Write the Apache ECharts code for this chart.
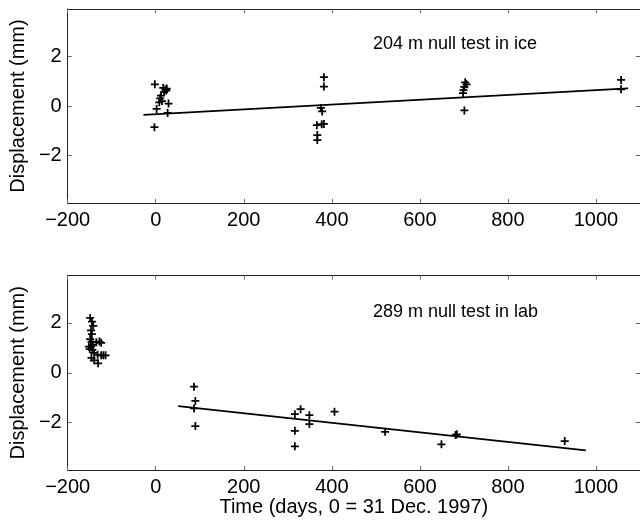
<!DOCTYPE html>
<html>
<head>
<meta charset="utf-8">
<script src="https://cdn.jsdelivr.net/npm/echarts@6/dist/echarts.min.js"></script>
<style>
  html, body { margin: 0; padding: 0; background: #fff; }
  #main { width: 640px; height: 522px; }
</style>
</head>
<body>
<div id="main"></div>
<script>
// 204 m null test in ice
var iceDays = [-2, 17, 22, 19, 24, 25, 10, 12, 14, 8, 29, 2, 27, -3,
  382, 382, 375, 378, 366, 377, 382, 367, 367,
  703, 706, 701, 699, 698, 701,
  1057, 1057];
var iceDisp = [0.87, 0.73, 0.66, 0.56, 0.62, 0.7, 0.31, 0.42, 0.2, 0.15, 0.1, -0.12, -0.28, -0.85,
  1.16, 0.78, -0.08, -0.22, -0.77, -0.73, -0.72, -1.17, -1.37,
  0.95, 0.87, 0.77, 0.64, 0.52, -0.18,
  1.05, 0.67];
var iceFitDays = [-28, 1073];
var iceFitDisp = [-0.36, 0.71];

// 289 m null test in lab
var labDays = [-149, -145, -142, -147, -145, -149, -146, -152, -147, -143, -150, -144,
  -135, -128, -124, -140, -132, -124, -119, -114, -146, -140, -131,
  87, 90, 87, 90,
  316, 329, 349, 349, 316, 316,
  406, 521, 649, 681, 684, 929];
var labDisp = [2.2, 2.05, 1.88, 1.7, 1.55, 1.35, 1.25, 1.05, 1.05, 1.12, 0.95, 0.92,
  1.22, 1.25, 1.2, 0.8, 0.72, 0.7, 0.7, 0.7, 0.6, 0.5, 0.38,
  -0.56, -1.13, -1.43, -2.14,
  -1.66, -1.46, -1.7, -2.06, -2.33, -2.95,
  -1.56, -2.37, -2.87, -2.5, -2.47, -2.74];
var labFitDays = [51, 977];
var labFitDisp = [-1.34, -3.11];

var xTicks = [-200, 0, 200, 400, 600, 800, 1000];
var yTicks = [-2, 0, 2];

function pairs(xs, ys) {
  return xs.map(function (x, i) { return [x, ys[i]]; });
}

var FONT = 'Liberation Sans, Arial, Helvetica, sans-serif';
var plus = 'path://M3.9,0H6.1V3.9H10V6.1H6.1V10H3.9V6.1H0V3.9H3.9Z';
var minus = function (v) { return String(v).replace('-', '\u2212'); };

function xAx(grid, pos, main) {
  return {
    type: 'value', gridIndex: grid, position: pos,
    min: -200, max: 1100, interval: 200,
    axisLine: { show: true, onZero: false, lineStyle: { color: '#222', width: 1 } },
    axisTick: { show: true, inside: true, length: 4, customValues: xTicks, lineStyle: { color: '#666' } },
    axisLabel: {
      show: main, customValues: xTicks, margin: 7,
      color: '#000', fontSize: 20, fontFamily: FONT, formatter: minus
    },
    splitLine: { show: false },
    name: main && grid === 1 ? 'Time (days, 0 = 31 Dec. 1997)' : '',
    nameLocation: 'middle', nameGap: 27,
    nameTextStyle: { color: '#000', fontSize: 20, fontFamily: FONT }
  };
}

function yAx(grid, pos, main) {
  return {
    type: 'value', gridIndex: grid, position: pos,
    min: -3.9, max: 3.9,
    axisLine: { show: true, onZero: false, lineStyle: { color: '#222', width: 1 } },
    axisTick: { show: true, inside: true, length: 4, customValues: yTicks, lineStyle: { color: '#666' } },
    axisLabel: {
      show: main, customValues: yTicks, margin: 6,
      color: '#000', fontSize: 20, fontFamily: FONT, formatter: minus
    },
    splitLine: { show: false },
    name: main ? 'Displacement (mm)' : '',
    nameLocation: 'middle', nameGap: 29,
    nameTextStyle: { color: '#000', fontSize: 20, fontFamily: FONT }
  };
}

function pts(name, xi, yi, data) {
  return {
    name: name, type: 'scatter', xAxisIndex: xi, yAxisIndex: yi,
    symbol: plus, symbolSize: 8, data: data,
    itemStyle: { color: '#000', opacity: 1 }, silent: true
  };
}

function fit(name, xi, yi, data) {
  return {
    name: name, type: 'line', xAxisIndex: xi, yAxisIndex: yi,
    symbol: 'none', data: data,
    lineStyle: { color: '#000', width: 1.8 }, silent: true
  };
}

var chart = echarts.init(document.getElementById('main'));
chart.setOption({
  animation: false,
  backgroundColor: '#fff',
  grid: [
    { left: 59, width: 585, top: 9, height: 194 },
    { left: 59, width: 585, top: 275.5, height: 194.5 }
  ],
  xAxis: [xAx(0, 'bottom', true), xAx(0, 'top', false), xAx(1, 'bottom', true), xAx(1, 'top', false)],
  yAxis: [yAx(0, 'left', true), yAx(0, 'right', false), yAx(1, 'left', true), yAx(1, 'right', false)],
  graphic: [
    { type: 'text', left: 373, top: 35, style: { text: '204 m null test in ice', fill: '#000', font: '18px ' + FONT } },
    { type: 'text', left: 373, top: 303, style: { text: '289 m null test in lab', fill: '#000', font: '18px ' + FONT } }
  ],
  series: [
    fit('ice fit', 0, 0, pairs(iceFitDays, iceFitDisp)),
    pts('ice', 0, 0, pairs(iceDays, iceDisp)),
    fit('lab fit', 2, 2, pairs(labFitDays, labFitDisp)),
    pts('lab', 2, 2, pairs(labDays, labDisp))
  ]
});
</script>
</body>
</html>
